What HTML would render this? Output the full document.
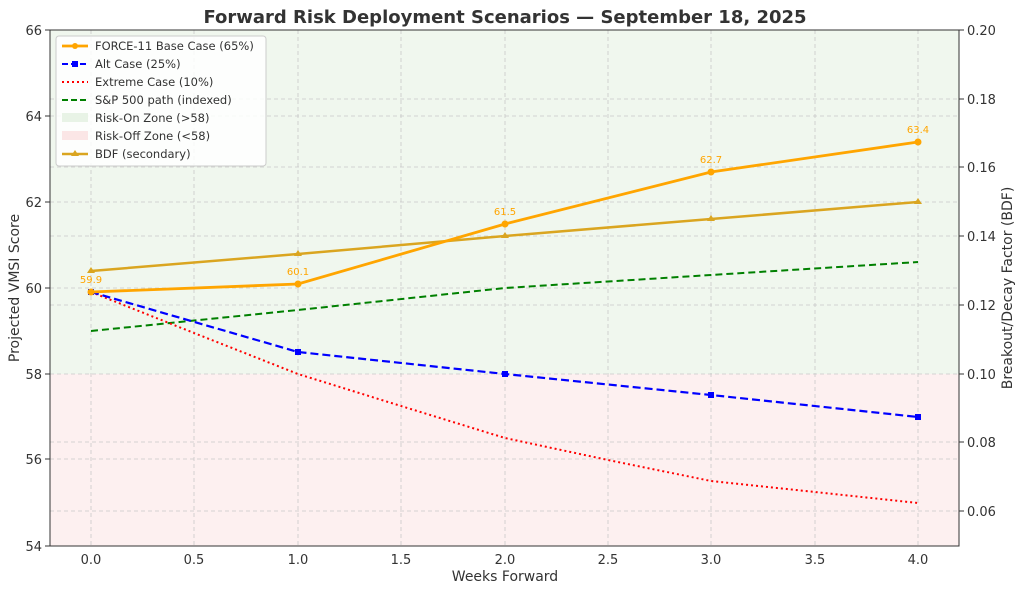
<!DOCTYPE html>
<html><head><meta charset="utf-8"><style>
body{margin:0;background:#fff;}
svg{display:block;font-family:"DejaVu Sans","Liberation Sans",sans-serif;}
</style></head><body>
<svg width="1024" height="592" viewBox="0 0 1024 592">
<rect x="50" y="30" width="909" height="344" fill="#f0f7ee"/>
<rect x="50" y="374" width="909" height="172" fill="#fdf0f0"/>
<g stroke="#c8c8c8" stroke-dasharray="4,3" stroke-width="0.8">
<line x1="50" x2="959" y1="459" y2="459"/><line x1="50" x2="959" y1="374" y2="374"/>
<line x1="50" x2="959" y1="288" y2="288"/><line x1="50" x2="959" y1="202" y2="202"/>
<line x1="50" x2="959" y1="116" y2="116"/>
<line x1="50" x2="959" y1="511" y2="511"/><line x1="50" x2="959" y1="442" y2="442"/>
<line x1="50" x2="959" y1="305" y2="305"/><line x1="50" x2="959" y1="236" y2="236"/>
<line x1="50" x2="959" y1="167" y2="167"/><line x1="50" x2="959" y1="99" y2="99"/>
<line y1="30" y2="546" x1="91" x2="91"/><line y1="30" y2="546" x1="194" x2="194"/>
<line y1="30" y2="546" x1="298" x2="298"/><line y1="30" y2="546" x1="401" x2="401"/>
<line y1="30" y2="546" x1="505" x2="505"/><line y1="30" y2="546" x1="608" x2="608"/>
<line y1="30" y2="546" x1="711" x2="711"/><line y1="30" y2="546" x1="815" x2="815"/>
<line y1="30" y2="546" x1="918" x2="918"/>
</g>
<polyline points="91,271 298,254 505,236 711,219 918,202" fill="none" stroke="#daa520" stroke-width="2.5"/>
<g fill="#daa520"><path d="M91,267l4,6h-8z"/><path d="M298,250l4,6h-8z"/><path d="M505,232l4,6h-8z"/><path d="M711,215l4,6h-8z"/><path d="M918,198l4,6h-8z"/></g>
<polyline points="91,331 298,310 505,288 711,275 918,262" fill="none" stroke="#008000" stroke-width="2" stroke-dasharray="7,4"/>
<polyline points="91,292 194,333 298,374 401,406 505,438 608,460 711,481 815,492 918,503" fill="none" stroke="#ff0000" stroke-width="2" stroke-dasharray="2,3"/>
<polyline points="91,292 298,352 505,374 711,395 918,417" fill="none" stroke="#0000ff" stroke-width="2.2" stroke-dasharray="8,4"/>
<g fill="#0000ff"><rect x="88" y="289" width="6" height="6"/><rect x="295" y="349" width="6" height="6"/><rect x="502" y="371" width="6" height="6"/><rect x="708" y="392" width="6" height="6"/><rect x="915" y="414" width="6" height="6"/></g>
<polyline points="91,292 298,284 505,224 711,172 918,142" fill="none" stroke="#ffa500" stroke-width="2.8"/>
<g fill="#ffa500"><circle cx="91" cy="292" r="3.5"/><circle cx="298" cy="284" r="3.5"/><circle cx="505" cy="224" r="3.5"/><circle cx="711" cy="172" r="3.5"/><circle cx="918" cy="142" r="3.5"/></g>
<g fill="#ffa500" font-size="10" text-anchor="middle"><text x="91" y="283">59.9</text><text x="298" y="275">60.1</text><text x="505" y="215">61.5</text><text x="711" y="163">62.7</text><text x="918" y="133">63.4</text></g>
<g stroke="#333" stroke-width="1" fill="none"><rect x="50" y="30" width="909" height="516"/></g>
<g stroke="#333"><line x1="45" x2="50" y1="546" y2="546"/><line x1="45" x2="50" y1="459" y2="459"/><line x1="45" x2="50" y1="374" y2="374"/><line x1="45" x2="50" y1="288" y2="288"/><line x1="45" x2="50" y1="202" y2="202"/><line x1="45" x2="50" y1="116" y2="116"/><line x1="45" x2="50" y1="30" y2="30"/>
<line x1="959" x2="964" y1="511" y2="511"/><line x1="959" x2="964" y1="442" y2="442"/><line x1="959" x2="964" y1="374" y2="374"/><line x1="959" x2="964" y1="305" y2="305"/><line x1="959" x2="964" y1="236" y2="236"/><line x1="959" x2="964" y1="167" y2="167"/><line x1="959" x2="964" y1="99" y2="99"/><line x1="959" x2="964" y1="30" y2="30"/></g>
<g font-size="13" fill="#333" text-anchor="end"><text x="42" y="551">54</text><text x="42" y="464">56</text><text x="42" y="379">58</text><text x="42" y="293">60</text><text x="42" y="207">62</text><text x="42" y="121">64</text><text x="42" y="35">66</text></g>
<g font-size="13" fill="#333"><text x="967" y="516">0.06</text><text x="967" y="447">0.08</text><text x="967" y="379">0.10</text><text x="967" y="310">0.12</text><text x="967" y="241">0.14</text><text x="967" y="172">0.16</text><text x="967" y="104">0.18</text><text x="967" y="35">0.20</text></g>
<g font-size="13" fill="#333" text-anchor="middle"><text x="91" y="564">0.0</text><text x="194" y="564">0.5</text><text x="298" y="564">1.0</text><text x="401" y="564">1.5</text><text x="505" y="564">2.0</text><text x="608" y="564">2.5</text><text x="711" y="564">3.0</text><text x="815" y="564">3.5</text><text x="918" y="564">4.0</text></g>
<text x="505" y="581" font-size="14" fill="#333" text-anchor="middle">Weeks Forward</text>
<text transform="translate(19,288) rotate(-90)" font-size="14" fill="#333" text-anchor="middle">Projected VMSI Score</text>
<text transform="translate(1012,288) rotate(-90)" font-size="14" fill="#333" text-anchor="middle">Breakout/Decay Factor (BDF)</text>
<text x="505" y="23" font-size="18" font-weight="bold" fill="#333" text-anchor="middle">Forward Risk Deployment Scenarios — September 18, 2025</text>
<rect x="56" y="36" width="210" height="130" rx="3" fill="#fff" fill-opacity="0.85" stroke="#ccc"/>
<g font-size="11.5" fill="#333">
<line x1="62" x2="88" y1="46" y2="46" stroke="#ffa500" stroke-width="2.8"/><circle cx="75" cy="46" r="3" fill="#ffa500"/><text x="95" y="50">FORCE-11 Base Case (65%)</text>
<line x1="62" x2="88" y1="64" y2="64" stroke="#0000ff" stroke-width="2" stroke-dasharray="6,3"/><rect x="72" y="61" width="6" height="6" fill="#0000ff"/><text x="95" y="68">Alt Case (25%)</text>
<line x1="62" x2="88" y1="82" y2="82" stroke="#ff0000" stroke-width="2" stroke-dasharray="2,3"/><text x="95" y="86">Extreme Case (10%)</text>
<line x1="62" x2="88" y1="100" y2="100" stroke="#008000" stroke-width="2" stroke-dasharray="6,3"/><text x="95" y="104">S&amp;P 500 path (indexed)</text>
<rect x="62" y="113" width="26" height="9" fill="#e8f3e6"/><text x="95" y="122">Risk-On Zone (&gt;58)</text>
<rect x="62" y="131" width="26" height="9" fill="#fbe6e6"/><text x="95" y="140">Risk-Off Zone (&lt;58)</text>
<line x1="62" x2="88" y1="154" y2="154" stroke="#daa520" stroke-width="2.5"/><path d="M75,150l4,6h-8z" fill="#daa520"/><text x="95" y="158">BDF (secondary)</text>
</g>
</svg>
</body></html>
